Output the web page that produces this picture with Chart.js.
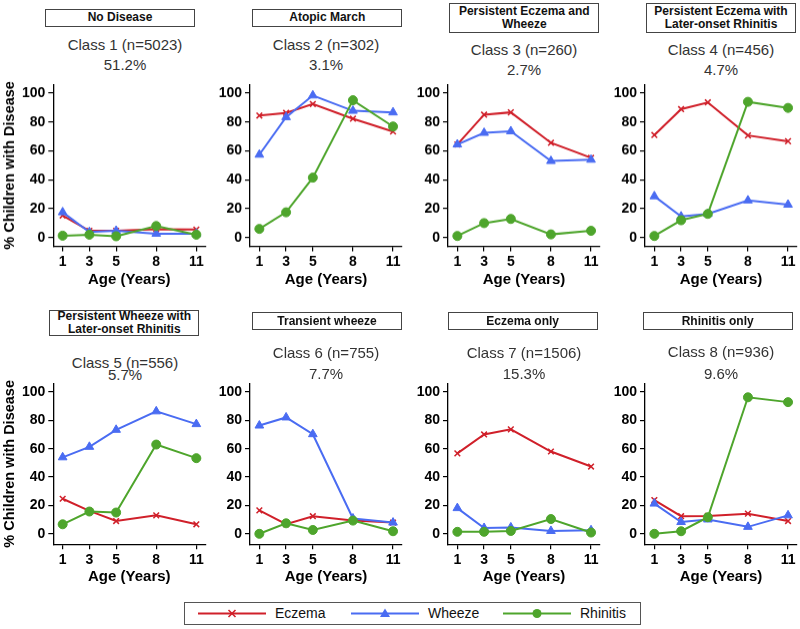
<!DOCTYPE html>
<html>
<head>
<meta charset="utf-8">
<script src="https://cdn.jsdelivr.net/npm/chart.js@4.4.1/dist/chart.umd.min.js"></script>
<style>
  body { margin: 0; background: #fff; font-family: "Liberation Sans", Arial, sans-serif; }
  #wrap { position: relative; width: 800px; height: 629px; overflow: hidden; }
  .box { position: absolute; border: 1px solid #444; box-sizing: border-box; display: flex; flex-direction: column;
         justify-content: center; align-items: center; font-weight: bold; font-size: 12px; line-height: 13.4px; color: #111; }
  .cls { position: absolute; width: 160px; text-align: center; font-size: 15px; color: #333; transform: translate(-50%, -50%); }
  .pane { position: absolute; }
  #legend { position: absolute; left: 184px; top: 602px; width: 457px; height: 23px; border: 1px solid #555; box-sizing: border-box; }
  .lg { position: absolute; top: 0; height: 21px; font-size: 14px; line-height: 21px; color: #111; }
</style>
</head>
<body>
<div id="wrap"><div id="legend"></div></div>
<script>
// values
const ages = [1, 3, 5, 8, 11];
const yTicks = [0, 20, 40, 60, 80, 100];
const seriesNames = ['Eczema', 'Wheeze', 'Rhinitis'];
const boxTitles = [
  ['No Disease'], ['Atopic March'], ['Persistent Eczema and', 'Wheeze'], ['Persistent Eczema with', 'Later-onset Rhinitis'],
  ['Persistent Wheeze with', 'Later-onset Rhinitis'], ['Transient wheeze'], ['Eczema only'], ['Rhinitis only']
];
const classNames = ['Class 1 (n=5023)', 'Class 2 (n=302)', 'Class 3 (n=260)', 'Class 4 (n=456)',
                    'Class 5 (n=556)', 'Class 6 (n=755)', 'Class 7 (n=1506)', 'Class 8 (n=936)'];
const classShares = ['51.2%', '3.1%', '2.7%', '4.7%', '5.7%', '7.7%', '15.3%', '9.6%'];

const eczema = [
  [15.3, 4.7, 4.7, 5.8, 5.5],
  [84.5, 86.3, 92.5, 82.3, 73.4],
  [64.5, 85.1, 86.7, 65.6, 55.2],
  [71.0, 88.9, 93.6, 70.7, 66.7],
  [24.7, 16.2, 9.0, 13.0, 6.7],
  [16.5, 6.8, 12.4, 9.3, 7.9],
  [56.7, 70.0, 73.6, 58.0, 47.4],
  [23.8, 12.4, 12.6, 14.2, 9.0]
];
const wheeze = [
  [17.5, 3.8, 4.7, 2.7, 2.7],
  [57.4, 83.4, 98.4, 87.8, 86.7],
  [64.5, 72.5, 73.6, 53.0, 53.9],
  [28.6, 14.6, 16.4, 25.7, 22.8],
  [53.9, 61.3, 73.3, 86.3, 77.3],
  [76.3, 82.0, 70.2, 10.8, 7.9],
  [18.1, 4.1, 4.5, 2.0, 2.5],
  [21.3, 8.3, 10.1, 4.9, 13.0]
];
const rhinitis = [
  [1.3, 2.0, 0.9, 8.0, 2.0],
  [6.0, 17.5, 41.5, 95.1, 76.9],
  [1.1, 10.0, 12.9, 2.2, 4.7],
  [1.1, 12.0, 16.4, 94.0, 89.8],
  [6.7, 15.7, 15.0, 62.9, 53.3],
  [0.0, 7.4, 2.7, 9.3, 1.8],
  [1.4, 1.4, 2.0, 10.4, 0.9],
  [0.0, 1.8, 11.7, 96.2, 92.8]
];

// styles
const colors = ['#d0202a', '#4a6cf2', '#4ea52c'];
const markers = ['crossRot', 'triangle', 'circle'];
const markerSize = [4, 5, 4.5];

// layout
const plotLeft = [53.3, 250, 447.7, 645];
const plotW = 152;
const plotTop = [77.3, 376];
const plotBottom = [245.7, 544.3];
const yRange = [[-6, 106], [-7.4, 106]];
const boxLeft = [[45, 252.3, 449.3, 646], [49.3, 252, 447.7, 642.7]];
const boxTop = [[9, 9, 3.3, 3.3], [310, 312.3, 312.3, 312.3]];
const boxH = [[18, 18, 30, 30], [26, 18, 18, 18]];
const clsX = [125, 326, 524, 721];
const clsY = [[44, 44, 49.3, 49.3], [361.7, 352.3, 352.3, 350.7]];
const pctY = [[64, 64, 69.3, 69.3], [374, 372.7, 372.7, 372.7]];

const wrap = document.getElementById('wrap');
const seriesData = [eczema, wheeze, rhinitis];
const FONT = '"Liberation Sans", Arial, sans-serif';

for (let i = 0; i < 8; i++) {
  const r = Math.floor(i / 4), c = i % 4;

  const box = document.createElement('div');
  box.className = 'box';
  box.style.left = boxLeft[r][c] + 'px';
  box.style.top = boxTop[r][c] + 'px';
  box.style.width = '150px';
  box.style.height = boxH[r][c] + 'px';
  boxTitles[i].forEach(t => { const s = document.createElement('div'); s.textContent = t; box.appendChild(s); });
  wrap.appendChild(box);

  [[classNames[i], clsY[r][c]], [classShares[i], pctY[r][c]]].forEach(([txt, y]) => {
    const d = document.createElement('div');
    d.className = 'cls';
    d.textContent = txt;
    d.style.left = clsX[c] + 'px';
    d.style.top = y + 'px';
    wrap.appendChild(d);
  });

  const left = c === 0 ? 0 : plotLeft[c] - 45;
  const top = plotTop[r] - 4;
  const width = plotLeft[c] + plotW + 6 - left;
  const height = plotBottom[r] + 42 - top;
  const pane = document.createElement('div');
  pane.className = 'pane';
  pane.style.left = left + 'px';
  pane.style.top = top + 'px';
  pane.style.width = width + 'px';
  pane.style.height = height + 'px';
  const cv = document.createElement('canvas');
  pane.appendChild(cv);
  wrap.appendChild(pane);

  const yW = plotLeft[c] - left;
  new Chart(cv, {
    type: 'line',
    data: {
      datasets: seriesNames.map((name, k) => ({
        label: name,
        data: ages.map((a, j) => ({ x: a, y: seriesData[k][i][j] })),
        borderColor: colors[k],
        backgroundColor: colors[k],
        pointBackgroundColor: colors[k],
        pointBorderColor: colors[k],
        borderWidth: 2,
        pointStyle: markers[k],
        pointRadius: markerSize[k],
        pointBorderWidth: k === 0 ? 1.5 : 1,
        tension: 0,
        order: 2 - k
      }))
    },
    options: {
      responsive: true,
      maintainAspectRatio: false,
      animation: false,
      events: [],
      layout: { padding: { top: 4, right: 6, left: 0, bottom: 0 }, autoPadding: false },
      plugins: { legend: { display: false }, tooltip: { enabled: false } },
      scales: {
        x: {
          type: 'linear', min: 0.3, max: 11.67,
          afterBuildTicks: s => { s.ticks = ages.map(v => ({ value: v })); },
          afterFit: s => { s.height = 42; },
          grid: { drawOnChartArea: false, drawTicks: true, tickLength: 5, color: '#000', lineWidth: 1.2 },
          border: { color: '#000', width: 1.3 },
          ticks: { color: '#000', font: { family: FONT, size: 14, weight: 'bold' }, padding: 2, maxRotation: 0, autoSkip: false },
          title: { display: true, text: 'Age (Years)', color: '#000', font: { family: FONT, size: 15, weight: 'bold' }, padding: 0 }
        },
        y: {
          min: yRange[r][0], max: yRange[r][1],
          afterBuildTicks: s => { s.ticks = yTicks.map(v => ({ value: v })); },
          afterFit: s => { s.width = yW; },
          grid: { drawOnChartArea: false, drawTicks: true, tickLength: 5, color: '#000', lineWidth: 1.2 },
          border: { color: '#000', width: 1.3 },
          ticks: { color: '#000', font: { family: FONT, size: 14, weight: 'bold' }, padding: 3 },
          title: { display: c === 0, text: '% Children with Disease', color: '#000', font: { family: FONT, size: 14.5, weight: 'bold' }, padding: { top: 1.3, bottom: 0 } }
        }
      }
    }
  });
}

// legend
const legend = document.getElementById('legend');
const lgLine = [12, 165, 317];
const lgText = [90, 243, 395];
seriesNames.forEach((name, k) => {
  const svg = document.createElementNS('http://www.w3.org/2000/svg', 'svg');
  svg.setAttribute('width', '70'); svg.setAttribute('height', '21');
  svg.style.position = 'absolute'; svg.style.left = lgLine[k] + 'px'; svg.style.top = '0px';
  const ln = document.createElementNS(svg.namespaceURI, 'line');
  ln.setAttribute('x1', 1); ln.setAttribute('x2', 69); ln.setAttribute('y1', 10.5); ln.setAttribute('y2', 10.5);
  ln.setAttribute('stroke', colors[k]); ln.setAttribute('stroke-width', 2);
  svg.appendChild(ln);
  let m;
  if (k === 0) {
    m = document.createElementNS(svg.namespaceURI, 'path');
    m.setAttribute('d', 'M31.5 7 L38.5 14 M38.5 7 L31.5 14');
    m.setAttribute('stroke', colors[k]); m.setAttribute('stroke-width', 1.6);
  } else if (k === 1) {
    m = document.createElementNS(svg.namespaceURI, 'path');
    m.setAttribute('d', 'M35 5.5 L40 14 L30 14 Z');
    m.setAttribute('fill', colors[k]);
  } else {
    m = document.createElementNS(svg.namespaceURI, 'circle');
    m.setAttribute('cx', 35); m.setAttribute('cy', 10.5); m.setAttribute('r', 4.5);
    m.setAttribute('fill', colors[k]);
  }
  svg.appendChild(m);
  legend.appendChild(svg);
  const t = document.createElement('div');
  t.className = 'lg';
  t.style.left = lgText[k] + 'px';
  t.textContent = name;
  legend.appendChild(t);
});
</script>
</body>
</html>
